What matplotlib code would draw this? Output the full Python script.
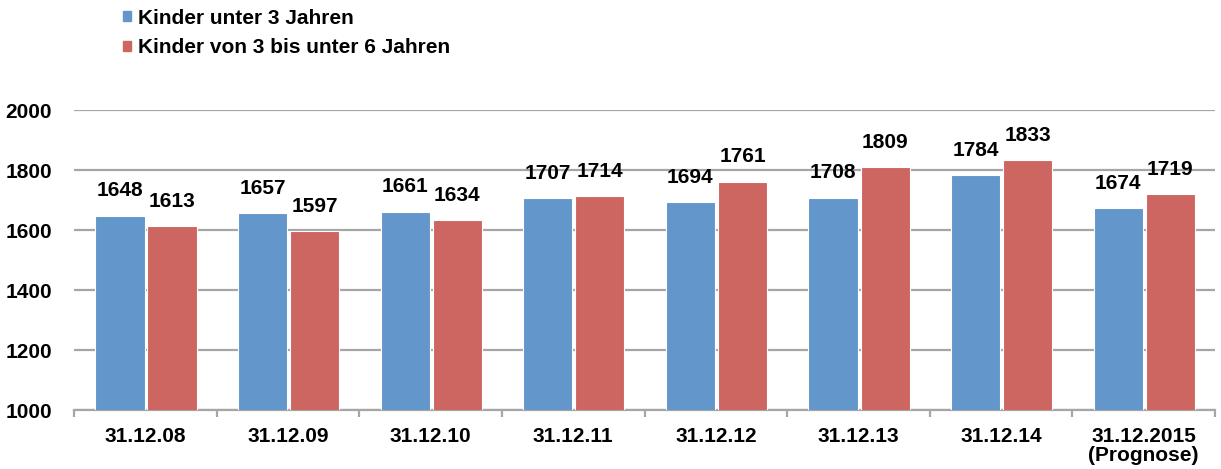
import matplotlib
matplotlib.use("Agg")
import matplotlib.pyplot as plt
from matplotlib.patches import Patch
import numpy as np

categories = ["31.12.08", "31.12.09", "31.12.10", "31.12.11", "31.12.12", "31.12.13", "31.12.14", "31.12.2015\n(Prognose)"]
unter3 = [1648, 1657, 1661, 1707, 1694, 1708, 1784, 1674]
drei_bis_6 = [1613, 1597, 1634, 1714, 1761, 1809, 1833, 1719]
series_names = ["Kinder unter 3 Jahren", "Kinder von 3 bis unter 6 Jahren"]
yticks = [1000, 1200, 1400, 1600, 1800, 2000]

blue = "#6396CA"
red = "#CD6660"
font = "Liberation Sans"
fs = 15

fig = plt.figure(figsize=(12.21, 4.69), dpi=100)
ax = fig.add_axes([74/1221, 1-410/469, (1215-74)/1221, 300/469])

x = np.arange(len(categories))
w = 0.345
b1 = ax.bar(x - 0.178, unter3, w, bottom=0, color=blue, edgecolor="white", linewidth=0.8, zorder=3)
b2 = ax.bar(x + 0.187, drei_bis_6, w, bottom=0, color=red, edgecolor="white", linewidth=0.8, zorder=3)

for bars, vals in ((b1, unter3), (b2, drei_bis_6)):
    for r, v in zip(bars, vals):
        ax.annotate(str(v), (r.get_x() + r.get_width()/2, v), xytext=(0, 11),
                    textcoords="offset points", ha="center", va="bottom",
                    fontsize=fs, fontweight="bold", family=font, annotation_clip=False)

ax.set_ylim(1000, 2000)
ax.set_xlim(-0.5, len(categories) - 0.5)
ax.set_yticks(yticks)
ax.set_yticklabels([str(t) for t in yticks], fontsize=fs, fontweight="bold", family=font)
ax.tick_params(axis="y", length=0, pad=16)
ax.yaxis.grid(True, color="#A6A6A6", linewidth=1.6, zorder=0)
ax.set_axisbelow(True)

ax.set_xticks(x)
ax.set_xticklabels(categories, fontsize=fs, fontweight="bold", family=font, linespacing=1.0)
ax.tick_params(axis="x", length=0, pad=12)
ax.set_xticks(np.arange(len(categories) + 1) - 0.5, minor=True)
ax.tick_params(axis="x", which="minor", length=5, width=1.6, color="#A6A6A6")

for s in ("top", "right", "left"):
    ax.spines[s].set_visible(False)
ax.spines["bottom"].set_color("#A6A6A6")
ax.spines["bottom"].set_linewidth(1.6)

handles = [Patch(color=blue), Patch(color=red)]
leg = fig.legend(handles, series_names, loc="upper left", bbox_to_anchor=(104/1221, 1.0 + 10/469),
                 frameon=False, handlelength=0.38, handleheight=0.38, handletextpad=0.35,
                 labelspacing=0.5, prop={"family": font, "weight": "bold", "size": fs})

fig.savefig("out.png", dpi=100)
